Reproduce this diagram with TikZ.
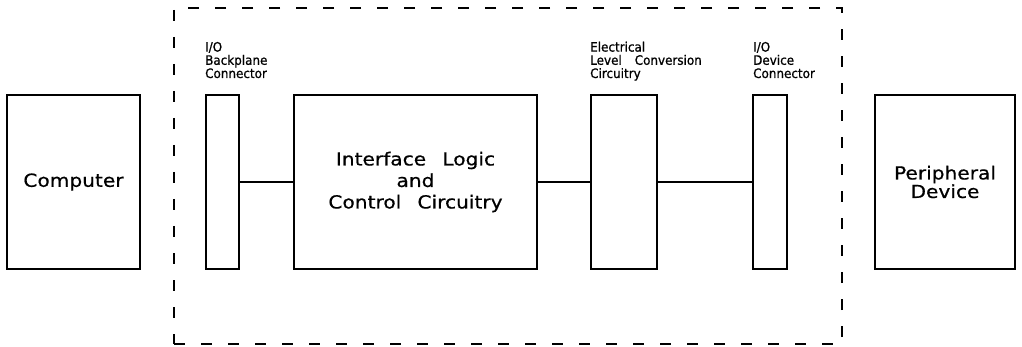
\documentclass[tikz,border=0pt]{standalone}
\usepackage{fontspec}
\newfontfamily\lblfont[FakeStretch=0.92,FakeBold=0.8]{DejaVu Sans}
\newfontfamily\bigfont[FakeStretch=1.12,FakeBold=0.6]{DejaVu Sans}
\begin{document}
\begin{tikzpicture}[x=1pt,y=-1pt,
  box/.style={draw, line width=1.3pt, inner sep=0pt, align=center},
  board/.style={draw, line width=1.3pt, dash pattern=on 11pt off 16pt, inner sep=0pt},
  lbl/.style={inner sep=0pt, align=left, font=\lblfont\fontsize{13}{13.2}\selectfont},
  big/.style={font=\bigfont\fontsize{18}{21.5}\selectfont},
  link/.style={line width=1.3pt}]
\useasboundingbox (0,0) rectangle (1022,347);
\node[board, minimum width=668pt, minimum height=336pt] (brd) at (508,176) {};
\node[box, big, minimum width=133pt, minimum height=174pt] (comp) at (73.5,182) {Computer};
\node[box, minimum width=33pt, minimum height=174pt] (bp) at (222.5,182) {};
\node[box, big, minimum width=243pt, minimum height=174pt] (ilc) at (415.5,182) {Interface\hspace{0.9em}Logic\\and\\Control\hspace{0.9em}Circuitry};
\node[box, minimum width=66pt, minimum height=174pt] (elc) at (624,182) {};
\node[box, minimum width=34pt, minimum height=174pt] (dc) at (770,182) {};
\node[box, minimum width=140pt, minimum height=174pt, font=\bigfont\fontsize{18}{18.5}\selectfont] (per) at (945,182) {Peripheral\\Device};
\node[lbl, anchor=base west] (bpl) at (205,78) {I/O\\Backplane\\Connector};
\node[lbl, anchor=base west] (elcl) at (590,78) {Electrical\\Level\hspace{1em}Conversion\\Circuitry};
\node[lbl, anchor=base west] (dcl) at (753,78) {I/O\\Device\\Connector};
\draw[link] (bp.east) -- (ilc.west);
\draw[link] (ilc.east) -- (elc.west);
\draw[link] (elc.east) -- (dc.west);
\end{tikzpicture}
\end{document}
